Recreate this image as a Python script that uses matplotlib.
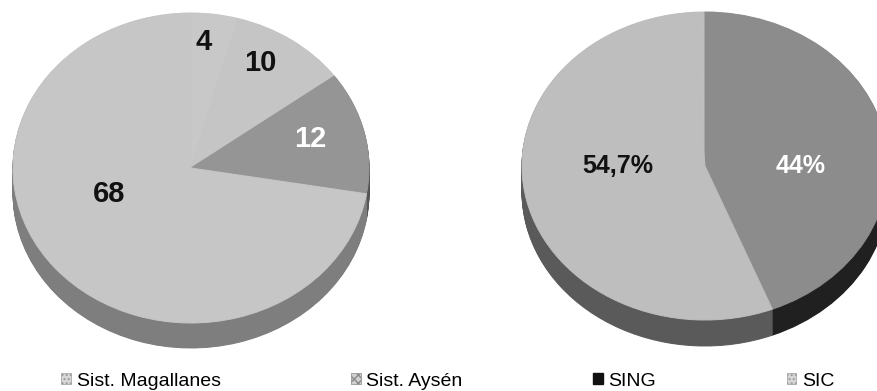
import matplotlib
matplotlib.use('Agg')
import matplotlib.pyplot as plt
from matplotlib import font_manager
from matplotlib.patches import Patch
import numpy as np

# data
categories = ['Sist. Magallanes', 'Sist. Aysén', 'SING', 'SIC']
left_values = [4, 10, 12, 68]
left_labels = ['4', '10', '12', '68']
right_values = [0.5, 0.8, 44, 54.7]
right_labels = ['', '', '44%', '54,7%']

installed = {f.name for f in font_manager.fontManager.ttflist}
FONT = ['Liberation Sans Narrow', 'Liberation Sans', 'DejaVu Sans'] \
    if 'Liberation Sans Narrow' in installed else ['Liberation Sans', 'DejaVu Sans']

W, H = 878, 391
fig = plt.figure(figsize=(W / 100, H / 100), dpi=100)


def pie3d(cx, cy, rx, ry, depth, values, start, top_colors, side_colors,
          labels, label_xy, label_colors, fsize):
    # cx, cy in pixels (cy from top); rx, ry = radii of the top face
    span = 1.3
    ax = fig.add_axes([(cx - span * rx) / W, (H - cy - span * ry) / H,
                       2 * span * rx / W, 2 * span * ry / H])
    d = depth / ry
    layers = [(-k, side_colors) for k in np.linspace(d, 0, 30)[:-1]] + [(0, top_colors)]
    for y0, cols in layers:
        wedges, _ = ax.pie(values, colors=cols, startangle=start, counterclock=False,
                           center=(0, y0), radius=1)
        for w in wedges:
            # hide antialias seams between wedges of the same shade
            w.set_edgecolor(w.get_facecolor())
            w.set_linewidth(0.7)
    for lab, (x, y), c in zip(labels, label_xy, label_colors):
        if lab:
            ax.text(x, y, lab, ha='center', va='center', fontsize=fsize,
                    fontweight='bold', color=c, family=FONT)
    ax.set_aspect('auto')
    ax.set_xlim(-span, span)
    ax.set_ylim(-span, span)
    ax.axis('off')
    return ax


pie3d(191, 168, 178, 155, 25, left_values, 90,
      ['#c8c8c8', '#c5c5c5', '#959595', '#c6c6c6'],
      ['#8a8a8a', '#858585', '#555555', '#7e7e7e'],
      left_labels,
      [(0.07, 0.81), (0.39, 0.68), (0.67, 0.19), (-0.46, -0.17)],
      ['#111111', '#111111', 'white', '#111111'], 21)

# tiny Magallanes/Aysén shares sit just left of 12 o'clock, SING starts at the top
small = sum(right_values[:2]) / sum(right_values) * 360
pie3d(705, 166, 183, 154, 26, right_values, 90 + small,
      ['#bebebe', '#bebebe', '#8c8c8c', '#bebebe'],
      ['#5a5a5a', '#5a5a5a', '#202020', '#5a5a5a'],
      right_labels,
      [(0, 0), (0, 0), (0.52, 0.0), (-0.475, 0.0)],
      ['#111111', '#111111', 'white', '#111111'], 18)

# legend
handles = [Patch(facecolor='#d8d8d8', edgecolor='#9a9a9a', hatch='....', lw=0.5),
           Patch(facecolor='#d0d0d0', edgecolor='#8a8a8a', hatch='xxxx', lw=0.5),
           Patch(facecolor='#111111', edgecolor='#111111'),
           Patch(facecolor='#d8d8d8', edgecolor='#9a9a9a', hatch='....', lw=0.5)]
fig.legend(handles, categories, ncol=4, loc='center',
           bbox_to_anchor=(0.51, 10 / H), frameon=False,
           prop=dict(family=FONT, size=14),
           handlelength=0.5, handleheight=0.5, handletextpad=0.3,
           columnspacing=6.7, borderpad=0)

plt.savefig('out.png', dpi=100)
plt.close()
